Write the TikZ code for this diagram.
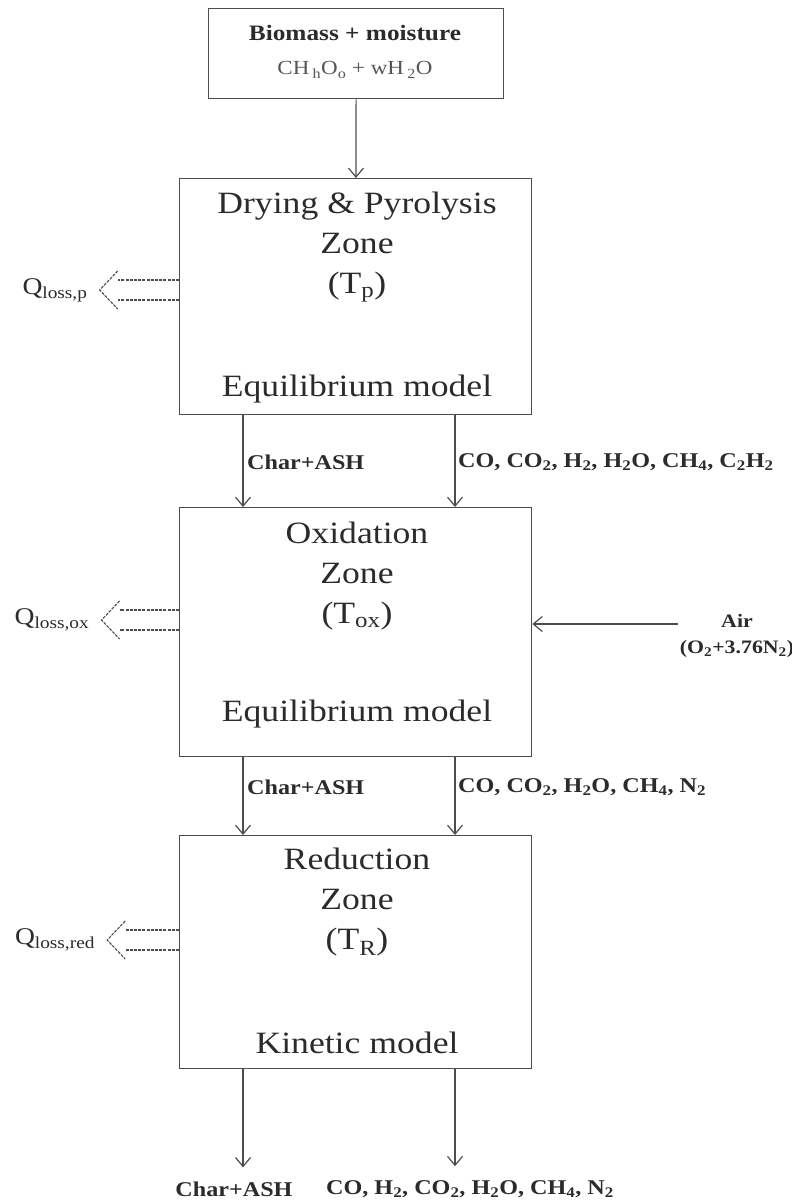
\documentclass[tikz,border=0pt]{standalone}
\usepackage{fontspec}
\setmainfont{Liberation Serif}[FakeStretch=1.15]
\usepackage{tikz}
\usetikzlibrary{arrows.meta,positioning,calc}
\definecolor{linegray}{HTML}{4D4D4D}
\definecolor{textgray}{HTML}{2B2B2B}

\begin{document}
\begin{tikzpicture}[
    x=1pt, y=-1pt,
    >={Straight Barb[length=9pt,width=15pt]},
    box/.style={
        rectangle, draw=linegray, line width=1.4pt,
        minimum width=352pt, inner sep=0pt, anchor=north west
    },
    ztitle/.style={font=\fontsize{31}{40}\selectfont, text=textgray, align=center},
    zmodel/.style={font=\fontsize{31}{36}\selectfont, text=textgray},
    lab/.style={font=\fontsize{21}{26}\selectfont\bfseries, text=textgray, inner sep=2pt},
    qlab/.style={font=\fontsize{24}{28}\selectfont, text=textgray, inner sep=2pt},
    arr/.style={->, line width=1.2pt, draw=linegray},
    qline/.style={draw=linegray, line width=1.1pt, dash pattern=on 3pt off 1.2pt}
]
    \useasboundingbox (0,0) rectangle (792,1202);

    % Feed
    \node[box, minimum width=295pt, minimum height=90pt] (feed) at (208,8) {};
    \node[lab, font=\fontsize{22}{26}\selectfont\bfseries] (feedname) at (355,33) {Biomass + moisture};
    \node[font=\fontsize{20}{24}\selectfont, text=textgray!80] (feedform) at (355,70)
        {CH\,\textsubscript{h}O\textsubscript{o} + wH\,\textsubscript{2}O};

    % Zones
    \node[box, minimum height=236pt] (dry) at (179,178) {};
    \node[ztitle] (drytitle) at (357,247) {Drying \& Pyrolysis\\Zone\\(T\textsubscript{p})};
    \node[zmodel] (drymodel) at (357,389) {Equilibrium model};

    \node[box, minimum height=249pt] (ox) at (179,507) {};
    \node[ztitle] (oxtitle) at (357,576) {Oxidation\\Zone\\(T\textsubscript{ox})};
    \node[zmodel] (oxmodel) at (357,714) {Equilibrium model};

    \node[box, minimum height=233pt] (red) at (179,835) {};
    \node[ztitle] (redtitle) at (357,902) {Reduction\\Zone\\(T\textsubscript{R})};
    \node[zmodel] (redmodel) at (357,1043) {Kinetic model};

    % Stream columns
    \coordinate (lx) at (243,0);
    \coordinate (rx) at (455,0);

    % Main arrows
    \draw[arr] (feed) -- (dry);
    \draw[arr] (dry.south -| lx) -- (ox.north -| lx);
    \draw[arr] (dry.south -| rx) -- (ox.north -| rx);
    \draw[arr] (ox.south -| lx) -- (red.north -| lx);
    \draw[arr] (ox.south -| rx) -- (red.north -| rx);

    % Stream labels
    \node[lab, anchor=west] (char1) at (245,462) {Char+ASH};
    \node[lab, anchor=west] (gas1) at (456,462)
        {CO, CO\textsubscript{2}, H\textsubscript{2}, H\textsubscript{2}O, CH\textsubscript{4}, C\textsubscript{2}H\textsubscript{2}};
    \node[lab, anchor=west] (char2) at (245,787) {Char+ASH};
    \node[lab, anchor=west] (gas2) at (456,787)
        {CO, CO\textsubscript{2}, H\textsubscript{2}O, CH\textsubscript{4}, N\textsubscript{2}};

    % Products
    \node[lab] (charout) at (234,1189) {Char+ASH};
    \node[lab] (gasout) at (470,1189)
        {CO, H\textsubscript{2}, CO\textsubscript{2}, H\textsubscript{2}O, CH\textsubscript{4}, N\textsubscript{2}};
    \draw[arr] (red.south -| lx) -- ([yshift=12pt]lx |- charout.north);
    \draw[arr] (red.south -| rx) -- ([yshift=12pt]rx |- gasout.north);

    % Air
    \node[lab, align=center, font=\fontsize{19}{26}\selectfont\bfseries] (air) at (737,636)
        {Air\\(O\textsubscript{2}+3.76N\textsubscript{2})};
    \draw[arr] ([yshift=12pt]air.west) -- ([yshift=12pt]air.west -| ox.east);

    % Heat losses
    \node[qlab] (qp) at (55,290) {Q\textsubscript{loss,p}};
    \node[qlab] (qox) at (52,620) {Q\textsubscript{loss,ox}};
    \node[qlab] (qred) at (55,940) {Q\textsubscript{loss,red}};
    \foreach \zn/\ql in {dry/qp, ox/qox, red/qred} {
        \coordinate (\ql tip) at ([xshift=10pt]\ql.east);
        \draw[qline] (\zn.west |- \ql) ++(0,-10) -- ($(\ql tip)+(18,-10)$);
        \draw[qline] (\zn.west |- \ql) ++(0,10) -- ($(\ql tip)+(18,10)$);
        \draw[qline] ($(\ql tip)+(18,-19)$) -- (\ql tip) -- ($(\ql tip)+(18,19)$);
    }
\end{tikzpicture}
\end{document}
